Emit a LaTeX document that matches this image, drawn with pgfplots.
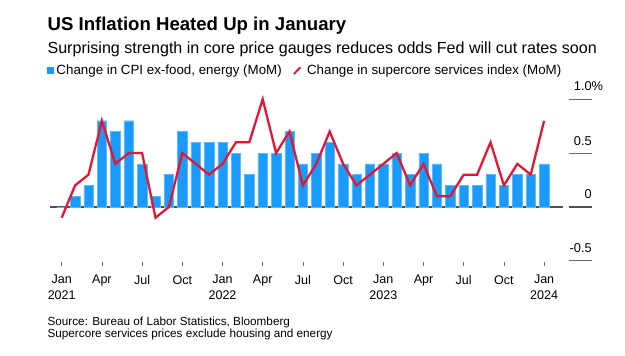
\documentclass[border=0pt]{standalone}
\usepackage{pgfplots}
\pgfplotsset{compat=1.18}
\usepackage{pgfplotstable}
\usepackage{fontspec}
\setmainfont{Liberation Sans}
\definecolor{cpiblue}{RGB}{24,155,250}
\definecolor{scred}{RGB}{232,21,50}
\definecolor{tickgray}{RGB}{110,110,110}
\definecolor{zerogray}{RGB}{80,80,80}

\pgfplotstableread{
idx cpi sc
0 0.0 -0.1
1 0.1 0.2
2 0.2 0.3
3 0.8 0.8
4 0.7 0.4
5 0.8 0.5
6 0.4 0.5
7 0.1 -0.1
8 0.3 0.0
9 0.7 0.5
10 0.6 0.4
11 0.6 0.3
12 0.6 0.4
13 0.5 0.6
14 0.3 0.6
15 0.5 1.0
16 0.5 0.5
17 0.7 0.7
18 0.4 0.2
19 0.5 0.4
20 0.6 0.7
21 0.4 0.4
22 0.3 0.2
23 0.4 0.3
24 0.4 0.4
25 0.5 0.5
26 0.3 0.2
27 0.5 0.4
28 0.4 0.1
29 0.2 0.1
30 0.2 0.3
31 0.2 0.3
32 0.3 0.6
33 0.2 0.2
34 0.3 0.4
35 0.3 0.3
36 0.4 0.8
}\datatable

\begin{document}
\begin{tikzpicture}
\path[use as bounding box] (0,0) rectangle (468.75pt,267pt);
% title block (y_pt = (356 - y_px)*0.75)
\node[anchor=base west, inner sep=0pt, font=\fontsize{13.95}{16}\selectfont\bfseries] at (35.5pt,244pt) {US Inflation Heated Up in January};
\node[anchor=base west, inner sep=0pt, font=\fontsize{12.05}{14}\selectfont] at (35.5pt,226.5pt) {Surprising strength in core price gauges reduces odds Fed will cut rates soon};
% source
\node[anchor=base west, inner sep=0pt, font=\fontsize{8.8}{10}\selectfont] at (35.5pt,22.6pt) {Source: Bureau of Labor Statistics, Bloomberg};
\node[anchor=base west, inner sep=0pt, font=\fontsize{8.8}{10}\selectfont] at (35.5pt,13.5pt) {Supercore services prices exclude housing and energy};

\begin{axis}[
  at={(37.5pt,67.5pt)}, anchor=south west,
  scale only axis, width=384.75pt, height=133.2pt,
  xmin=-0.873, xmax=37.41, ymin=-0.5473, ymax=1.1,
  axis x line=bottom, axis y line=none,
  x axis line style={draw=none, -},
  xtick={0,3,...,36},
  xticklabels={Jan\\2021,Apr,Jul,Oct,Jan\\2022,Apr,Jul,Oct,Jan\\2023,Apr,Jul,Oct,Jan\\2024},
  xticklabel style={align=center, anchor=north, inner sep=0pt, yshift=-6.8pt,
     font=\fontsize{9.4}{11.8}\selectfont, text=black},
  tick align=inside, major tick length=3pt,
  tick style={tickgray, line width=0.6pt},
  ytick=\empty,
  clip=false,
  legend columns=2,
  legend style={at={(-0.0053,1.1008)}, anchor=west, draw=none, fill=none,
     inner sep=0pt, outer sep=0pt,
     font=\fontsize{10}{12}\selectfont,
     /tikz/every even column/.append style={column sep=6.4pt}},
  legend cell align=left,
]
\addplot[zerogray, line width=0.9pt, forget plot] coordinates {(-0.873,0) (37.41,0)};
\addplot[ybar, bar width=7.1pt, bar shift=0pt, fill=cpiblue, draw=cpiblue!70!white, line width=0.3pt,
   legend image code/.code={\fill[cpiblue] (0pt,-2.3pt) rectangle (4.6pt,2.3pt);}]
   table[x=idx, y=cpi] {\datatable};
\addlegendentry{Change in CPI ex-food, energy (MoM)}
\addplot[scred, line width=1.7pt, mark=none, line join=miter,
   legend image code/.code={\draw[scred, line width=1.4pt] (0.3pt,-2.6pt) -- (5.2pt,2.4pt); \path[draw=none] (8.2pt,0pt) circle[radius=0pt];}]
   table[x=idx, y=sc] {\datatable};
\addlegendentry{Change in supercore services index (MoM)}
% right-hand value scale
\draw[tickgray, line width=0.8pt] (axis cs:37.86,1) -- (axis cs:39.57,1);
\draw[tickgray, line width=0.8pt] (axis cs:37.86,0.5) -- (axis cs:39.57,0.5);
\draw[zerogray, line width=0.9pt] (axis cs:37.86,0) -- (axis cs:39.57,0);
\draw[tickgray, line width=0.8pt] (axis cs:37.86,-0.5) -- (axis cs:39.57,-0.5);
\node[anchor=base east, inner sep=0pt, font=\fontsize{9.6}{11}\selectfont] at ([yshift=6.3pt]axis cs:39.57,1) {1.0\rlap{\%}};
\node[anchor=base east, inner sep=0pt, font=\fontsize{9.6}{11}\selectfont] at ([yshift=6.0pt]axis cs:39.57,0.5) {0.5};
\node[anchor=base east, inner sep=0pt, font=\fontsize{9.6}{11}\selectfont] at ([yshift=6.0pt]axis cs:39.57,0) {0};
\node[anchor=base east, inner sep=0pt, font=\fontsize{9.6}{11}\selectfont] at ([yshift=6.0pt]axis cs:39.57,-0.5) {-0.5};
\end{axis}
\end{tikzpicture}
\end{document}
